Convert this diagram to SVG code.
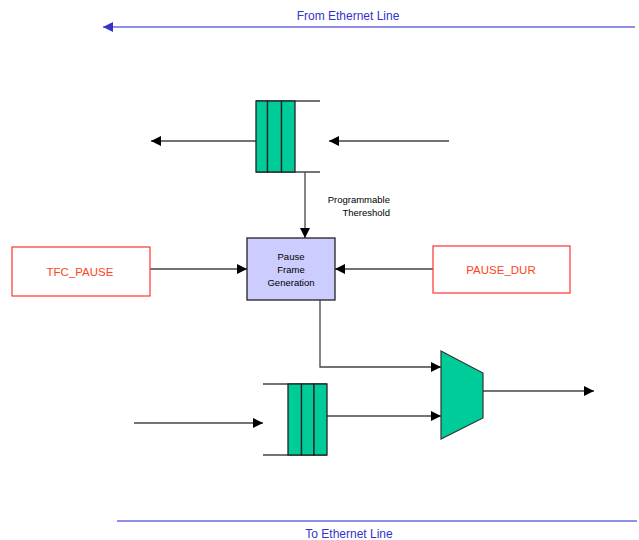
<svg xmlns="http://www.w3.org/2000/svg" width="639" height="540" viewBox="0 0 639 540">
<style>
.ln{stroke:#444;stroke-width:1.3;fill:none}
.eth{stroke:#6a6ae0;stroke-width:1.5;fill:none}
.q{fill:#00cc99;stroke:#222;stroke-width:1.3}
.red{fill:#fff;stroke:#ff3333;stroke-width:1.2}
.rt{font-family:"Liberation Sans",Arial,sans-serif;font-size:11.5px;fill:#ff4422;text-anchor:middle}
.bt{font-family:"Liberation Sans",Arial,sans-serif;font-size:12px;fill:#3333cc;text-anchor:middle}
.st{font-family:"Liberation Sans",Arial,sans-serif;font-size:9.5px;fill:#000}
</style>
<defs>
<marker id="ah" markerWidth="10" markerHeight="10" refX="10" refY="5" orient="auto" markerUnits="userSpaceOnUse">
<path d="M0,0 L10,5 L0,10 Z" fill="#000"/>
</marker>
<marker id="ahb" markerWidth="10" markerHeight="10" refX="10" refY="5" orient="auto" markerUnits="userSpaceOnUse">
<path d="M0,0 L10,5 L0,10 Z" fill="#3333cc"/>
</marker>
</defs>
<g id="connectors">
<line class="eth" x1="635" y1="27" x2="103" y2="27" marker-end="url(#ahb)"/>
<line class="eth" x1="117" y1="521" x2="637" y2="521"/>
<line class="ln" x1="256" y1="141" x2="151" y2="141" marker-end="url(#ah)"/>
<line class="ln" x1="449" y1="141" x2="329" y2="141" marker-end="url(#ah)"/>
<line class="ln" x1="305" y1="172" x2="305" y2="238" marker-end="url(#ah)"/>
<line class="ln" x1="150" y1="269" x2="247" y2="269" marker-end="url(#ah)"/>
<line class="ln" x1="433" y1="269" x2="335" y2="269" marker-end="url(#ah)"/>
<polyline class="ln" points="320,300 320,367 441,367" marker-end="url(#ah)"/>
<line class="ln" x1="134" y1="423" x2="263" y2="423" marker-end="url(#ah)"/>
<line class="ln" x1="327" y1="416" x2="441" y2="416" marker-end="url(#ah)"/>
<line class="ln" x1="483" y1="391" x2="594" y2="391" marker-end="url(#ah)"/>
</g>
<g id="from-label"><text class="bt" x="348" y="20">From Ethernet Line</text></g>
<g id="to-label"><text class="bt" x="349" y="538">To Ethernet Line</text></g>
<g id="rx-queue">
<line class="ln" x1="256" y1="101" x2="320" y2="101"/>
<line class="ln" x1="256" y1="172" x2="320" y2="172"/>
<rect class="q" x="256" y="101" width="11.5" height="71"/>
<rect class="q" x="267.5" y="101" width="14" height="71"/>
<rect class="q" x="281.5" y="101" width="13.5" height="71"/>
</g>
<g id="threshold-label">
<text class="st" x="390" y="203" text-anchor="end">Programmable</text>
<text class="st" x="390" y="216" text-anchor="end">Thereshold</text>
</g>
<g id="pause-gen">
<rect x="247" y="238" width="88" height="62" fill="#ccccff" stroke="#222" stroke-width="1.3"/>
<text class="st" x="291" y="260" text-anchor="middle">Pause</text>
<text class="st" x="291" y="273" text-anchor="middle">Frame</text>
<text class="st" x="291" y="286" text-anchor="middle">Generation</text>
</g>
<g id="tfc-pause">
<rect class="red" x="12" y="247" width="138" height="49"/>
<text class="rt" x="80" y="276">TFC_PAUSE</text>
</g>
<g id="pause-dur">
<rect class="red" x="433" y="246" width="137" height="47"/>
<text class="rt" x="501" y="274">PAUSE_DUR</text>
</g>
<g id="tx-queue">
<line class="ln" x1="263" y1="384" x2="327" y2="384"/>
<line class="ln" x1="263" y1="455" x2="327" y2="455"/>
<rect class="q" x="288" y="384" width="13.5" height="71"/>
<rect class="q" x="301.5" y="384" width="12.5" height="71"/>
<rect class="q" x="314" y="384" width="13" height="71"/>
</g>
<g id="mux">
<polygon points="441,351 483,373 483,418 441,439" fill="#00cc99" stroke="#333" stroke-width="1.2"/>
</g>
</svg>
